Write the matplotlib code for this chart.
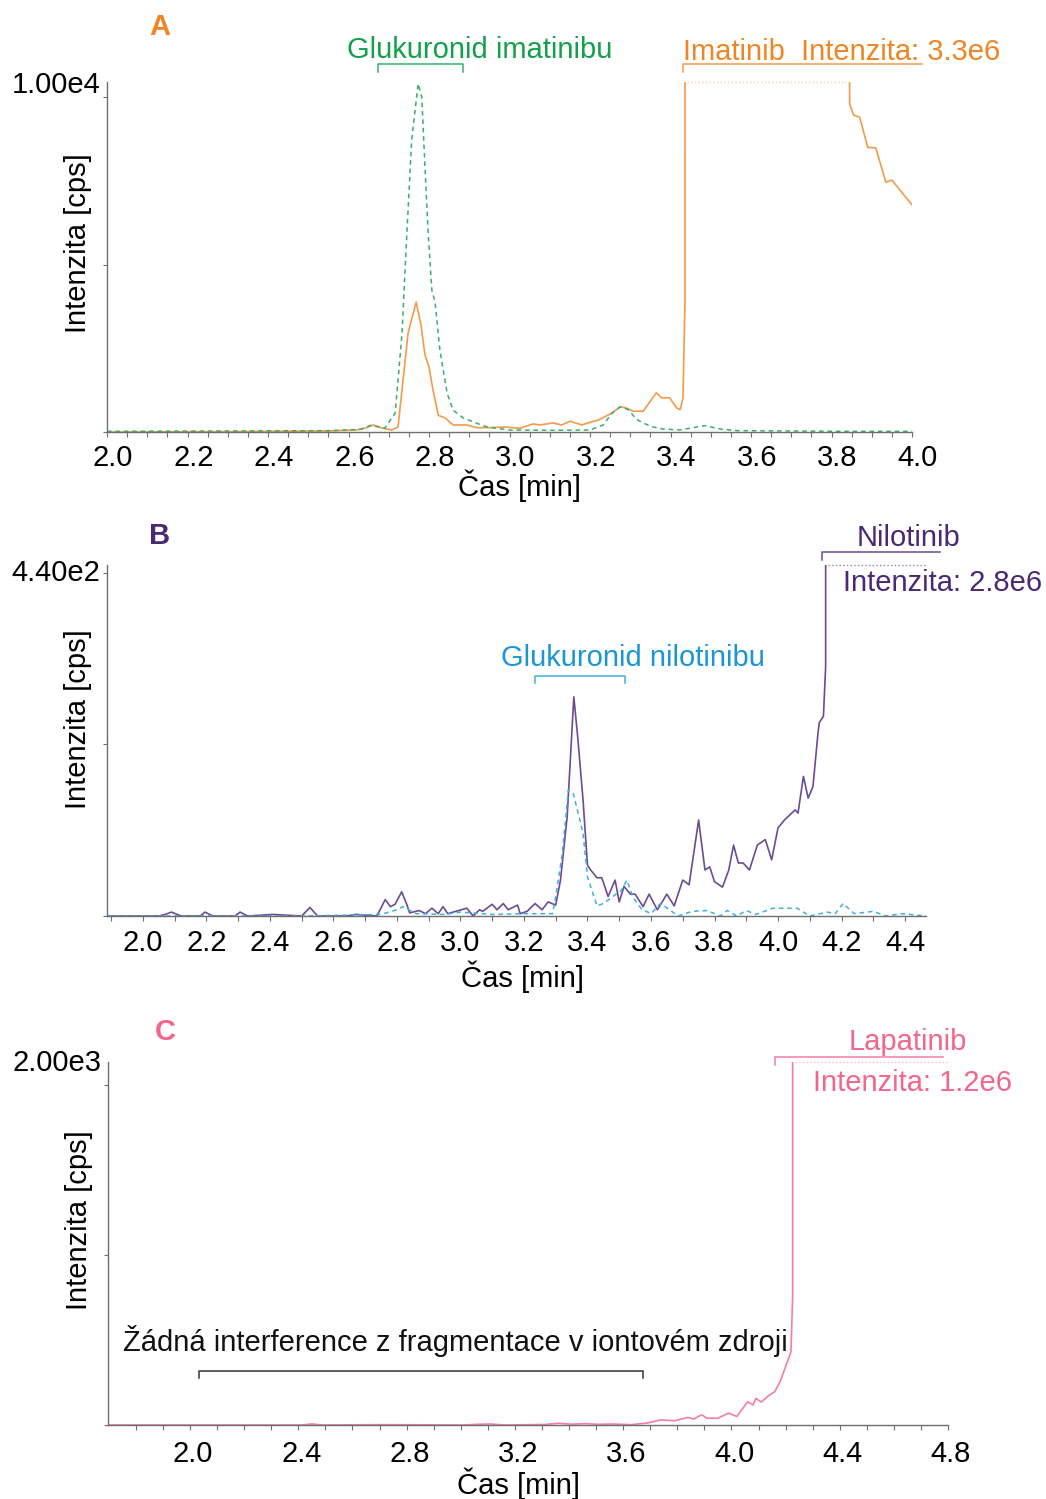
import matplotlib
matplotlib.use("Agg")
import matplotlib.pyplot as plt
import matplotlib.transforms as mtransforms
import numpy as np

plt.rcParams['font.family'] = ['Liberation Sans', 'DejaVu Sans']

# --- panel A: imatinib (solid) and imatinib glucuronide (dashed) ---
ima_t = [2.00, 2.30, 2.55, 2.62, 2.64, 2.662, 2.686, 2.707, 2.723, 2.748, 2.768, 2.78, 2.79,
         2.80, 2.81, 2.823, 2.84, 2.86, 2.894, 2.918, 2.95, 2.99, 3.026, 3.058, 3.075, 3.108,
         3.13, 3.15, 3.18, 3.20, 3.22, 3.242, 3.255, 3.275, 3.29, 3.307, 3.332, 3.344, 3.365,
         3.378, 3.398, 3.415, 3.424, 3.431, 3.436, 3.442, 3.50, 3.65, 3.80, 3.835, 3.845,
         3.855, 3.87, 3.89, 3.91, 3.935, 3.95, 3.965, 4.00]
ima_y = [0, 10, 30, 60, 110, 210, 110, 60, 150, 2950, 3880, 3200, 2300,
         1940, 1250, 500, 420, 210, 210, 130, 130, 150, 110, 240, 210, 270,
         210, 320, 210, 290, 350, 490, 570, 750, 720, 620, 620, 820, 1170,
         1020, 1020, 720, 670, 1020, 3940, 1.5e6, 3.3e6, 2.6e6, 8.0e5, 1.0e5, 9800,
         9460, 9400, 8500, 8480, 7460, 7520, 7300, 6780]

glu_ima_t = [2.00, 2.30, 2.55, 2.63, 2.655, 2.69, 2.716, 2.733, 2.745, 2.757, 2.773, 2.782,
             2.79, 2.798, 2.807, 2.815, 2.827, 2.845, 2.86, 2.885, 2.91, 2.944, 3.00, 3.10,
             3.20, 3.233, 3.255, 3.275, 3.295, 3.316, 3.35, 3.38, 3.424, 3.456, 3.486, 3.523,
             3.565, 3.70, 3.85, 4.00]
glu_ima_y = [20, 30, 40, 80, 200, 110, 570, 2950, 5930, 8720, 10400, 10000,
             7900, 5930, 4240, 3880, 2450, 1160, 650, 420, 300, 150, 60, 50,
             60, 210, 570, 750, 670, 370, 170, 90, 60, 130, 190, 90,
             40, 30, 20, 20]

# --- panel B: nilotinib (solid) and nilotinib glucuronide (dashed) ---
nil_t = [1.887, 2.05, 2.07, 2.09, 2.12, 2.18, 2.196, 2.22, 2.29, 2.306, 2.33, 2.41, 2.50,
         2.526, 2.55, 2.64, 2.67, 2.737, 2.763, 2.78, 2.794, 2.815, 2.83, 2.84, 2.87, 2.89,
         2.91, 2.93, 2.945, 2.96, 3.02, 3.04, 3.06, 3.07, 3.10, 3.115, 3.135, 3.15, 3.18,
         3.188, 3.21, 3.235, 3.257, 3.276, 3.30, 3.315, 3.336, 3.357, 3.37, 3.386, 3.40,
         3.41, 3.43, 3.445, 3.465, 3.487, 3.50, 3.515, 3.535, 3.55, 3.575, 3.594, 3.62,
         3.65, 3.673, 3.70, 3.72, 3.75, 3.77, 3.785, 3.80, 3.825, 3.845, 3.86, 3.875,
         3.89, 3.91, 3.935, 3.96, 3.98, 4.00, 4.02, 4.054, 4.063, 4.08, 4.095, 4.11,
         4.126, 4.13, 4.143, 4.15, 4.157, 4.20, 4.35, 4.466]
nil_y = [0, 0, 2, 5, 0, 0, 5, 0, 0, 5, 0, 2, 0,
         11, 0, 0, 2, 0, 21, 12, 15, 31, 16, 4, 7, 3,
         10, 3, 12, 3, 10, 0, 8, 6, 15, 8, 16, 8, 14,
         3, 6, 16, 8, 18, 14, 46, 127, 281, 226, 149, 65,
         59, 49, 49, 25, 46, 18, 38, 28, 28, 12, 28, 8,
         28, 13, 46, 40, 123, 59, 63, 44, 37, 59, 91, 68,
         68, 59, 91, 98, 72, 113, 123, 136, 132, 179, 151, 166,
         235, 248, 256, 320, 2.0e6, 2.8e6, 2.2e6, 1.5e6]

glu_nil_t = [1.887, 2.50, 2.75, 2.80, 2.82, 2.86, 2.95, 3.00, 3.10, 3.20, 3.29, 3.30, 3.32,
             3.34, 3.355, 3.37, 3.386, 3.40, 3.43, 3.45, 3.47, 3.49, 3.507, 3.524, 3.543,
             3.57, 3.60, 3.63, 3.655, 3.685, 3.73, 3.776, 3.818, 3.84, 3.87, 3.90, 3.93,
             3.985, 4.03, 4.06, 4.10, 4.155, 4.18, 4.205, 4.24, 4.30, 4.34, 4.39, 4.466]
glu_nil_y = [0, 0, 2, 8, 12, 3, 2, 5, 2, 3, 3, 25, 78,
             162, 157, 133, 106, 50, 13, 16, 22, 28, 33, 46, 24,
             9, 3, 16, 9, 0, 6, 7, 0, 7, 0, 7, 2,
             10, 10, 10, 0, 5, 3, 16, 3, 6, 0, 3, 0]

# --- panel C: lapatinib ---
lap_t = [1.70, 2.41, 2.45, 2.49, 2.71, 3.01, 3.06, 3.11, 3.16, 3.31, 3.36, 3.41, 3.46,
         3.51, 3.56, 3.63, 3.69, 3.74, 3.79, 3.84, 3.86, 3.89, 3.91, 3.95, 3.99, 4.02,
         4.06, 4.08, 4.09, 4.11, 4.14, 4.16, 4.18, 4.20, 4.22, 4.226, 4.233, 4.41, 4.80]
lap_y = [0, 0, 6, 0, 2, 0, 4, 6, 0, 3, 10, 5, 8,
         4, 6, 2, 12, 30, 25, 45, 35, 60, 40, 40, 70, 50,
         137, 118, 157, 135, 176, 196, 255, 343, 431, 755, 1.2e6, 1.1e6, 9.0e5]

c_orange = '#F39A4B'
c_orange_txt = '#F08523'
c_green = '#36B06A'
c_green_txt = '#13A04B'
c_purple = '#6B4C92'
c_purple_txt = '#4A2873'
c_blue = '#3DB0E3'
c_blue_txt = '#1A95D6'
c_pink = '#F57DA0'
c_pink_txt = '#F4658E'
axis_gray = '#6E6E6E'

FS = 21
TFS = 21

fig = plt.figure(figsize=(10.46, 14.99), dpi=100)
axA = fig.add_axes([107/1046, 1 - 432/1499, 805/1046, 350/1499])
axB = fig.add_axes([107/1046, 1 - 916/1499, 819/1046, 351/1499])
axC = fig.add_axes([108/1046, 1 - 1425/1499, 840/1046, 363/1499])


def style_axes(ax, xlim, ylim, major, minor, yticks, ytop_label, ylab_y, xlab_y, pad, shift):
    ax.set_xlim(*xlim)
    ax.set_ylim(*ylim)
    for s in ['top', 'right']:
        ax.spines[s].set_visible(False)
    for s in ['left', 'bottom']:
        ax.spines[s].set_color(axis_gray)
        ax.spines[s].set_linewidth(1.0)
    ax.set_xticks(major)
    ax.set_xticklabels(['%.1f' % v for v in major])
    ax.set_xticks(minor, minor=True)
    ax.tick_params(axis='x', which='both', direction='out', length=3.5, width=0.8,
                   color=axis_gray, labelsize=TFS, pad=pad)
    off = mtransforms.ScaledTranslation(shift / 100, 0, fig.dpi_scale_trans)
    for lab in ax.get_xticklabels():
        lab.set_transform(lab.get_transform() + off)
    ax.set_yticks(yticks)
    ax.set_yticklabels([])
    ax.tick_params(axis='y', direction='out', length=3, width=0.8, color=axis_gray)
    ax.text(-0.008, ylab_y[0], ytop_label, transform=ax.transAxes, ha='right',
            va='center', fontsize=TFS)
    ax.set_ylabel('Intenzita [cps]', fontsize=FS)
    ax.yaxis.label.set_va('center')
    ax.yaxis.set_label_coords(-29 / (ax.get_position().width * 1046), ylab_y[1])
    ax.set_xlabel('Čas [min]', fontsize=FS)
    ax.xaxis.set_label_coords(xlab_y[0], xlab_y[1])
    ax.xaxis.label.set_va('center')


def bracket(ax, x0, x1, y, ydrop, color, both=True):
    tr = mtransforms.blended_transform_factory(ax.transData, ax.transAxes)
    xs = [x0, x0, x1]
    ys = [ydrop, y, y]
    if both:
        xs.append(x1)
        ys.append(ydrop)
    ax.plot(xs, ys, color=color, lw=1.1, transform=tr, clip_on=False)
    return tr


# panel A
axA.plot(ima_t, ima_y, color=c_orange, lw=1.2)
axA.plot(glu_ima_t, glu_ima_y, color=c_green, lw=1.1, ls=(0, (3, 2.5)))
style_axes(axA, (2.0, 4.0), (0, 10450), np.arange(2.0, 4.01, 0.2),
           np.arange(2.0, 4.01, 0.05), [0, 5000, 10000], '1.00e4',
           (0.991, 0.54), (0.513, -0.153), 5.5, 6)
trA = bracket(axA, 2.673, 2.885, 1.051, 1.029, c_green)
axA.text(2.927, 1.091, 'Glukuronid imatinibu', transform=trA, ha='center', va='center',
         fontsize=FS, color=c_green_txt)
bracket(axA, 3.431, 4.025, 1.051, 1.029, c_orange, both=False)
axA.text(3.431, 1.086, 'Imatinib  Intenzita: 3.3e6', transform=trA, ha='left', va='center',
         fontsize=FS, color=c_orange_txt)
axA.plot([3.442, 3.835], [10450, 10450], color=c_orange, lw=1, ls=':', alpha=0.5,
         clip_on=False)

# panel B
axB.plot(nil_t, nil_y, color=c_purple, lw=1.2)
axB.plot(glu_nil_t, glu_nil_y, color=c_blue, lw=1.1, ls=(0, (3, 2.5)))
style_axes(axB, (1.887, 4.466), (0, 450), np.arange(2.0, 4.41, 0.2),
           np.arange(1.9, 4.46, 0.1), [0, 220, 440], '4.40e2',
           (0.977, 0.561), (0.507, -0.174), 5.5, 0)
trB = bracket(axB, 4.14, 4.509, 1.037, 1.014, c_purple, both=False)
axB.text(4.411, 1.077, 'Nilotinib', transform=trB, ha='center', va='center',
         fontsize=FS, color=c_purple_txt)
axB.plot([4.157, 4.466], [450, 450], color=c_purple, lw=1, ls=':', alpha=0.7,
         clip_on=False)
axB.text(4.204, 0.949, 'Intenzita: 2.8e6', transform=trB, ha='left', va='center',
         fontsize=FS, color=c_purple_txt)
bracket(axB, 3.234, 3.517, 0.684, 0.664, c_blue)
axB.text(3.542, 0.735, 'Glukuronid nilotinibu', transform=trB, ha='center', va='center',
         fontsize=FS, color=c_blue_txt)

# panel C
axC.plot(lap_t, lap_y, color=c_pink, lw=1.2)
style_axes(axC, (1.697, 4.80), (0, 2135), np.arange(2.0, 4.81, 0.4),
           np.arange(1.8, 4.81, 0.1), [0, 1000, 2000], '2.00e3',
           (0.997, 0.565), (0.489, -0.163), 7.5, 3)
trC = bracket(axC, 4.161, 4.781, 1.014, 0.992, c_pink, both=False)
axC.text(4.652, 1.055, 'Lapatinib', transform=trC, ha='center', va='center',
         fontsize=FS, color=c_pink_txt)
axC.plot([4.236, 4.80], [2135, 2135], color=c_pink, lw=1, ls=':', alpha=0.5,
         clip_on=False)
axC.text(4.30, 0.942, 'Intenzita: 1.2e6', transform=trC, ha='left', va='center',
         fontsize=FS, color=c_pink_txt)
bracket(axC, 2.033, 3.673, 0.149, 0.129, '#333333')
axC.text(1.752, 0.231, 'Žádná interference z fragmentace v iontovém zdroji', transform=trC,
         ha='left', va='center', fontsize=FS, color='#111111')

# panel letters
fig.text(160/1046, 1 - 27/1499, 'A', color=c_orange_txt, fontsize=21, fontweight='bold',
         ha='center', va='center')
fig.text(160/1046, 1 - 536/1499, 'B', color=c_purple_txt, fontsize=21, fontweight='bold',
         ha='center', va='center')
fig.text(165/1046, 1 - 1032/1499, 'C', color=c_pink_txt, fontsize=21, fontweight='bold',
         ha='center', va='center')

fig.savefig('out.png', dpi=100)
